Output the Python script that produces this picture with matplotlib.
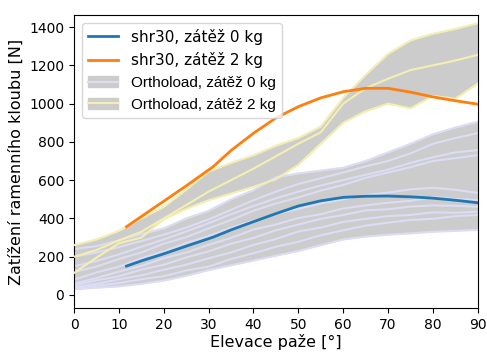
import numpy as np
import matplotlib
matplotlib.use("Agg")
import matplotlib.pyplot as plt
from matplotlib.patches import Patch
from matplotlib.lines import Line2D

# elevation grid of the Orthoload curves
elev = np.arange(0, 91, 5)

# Orthoload, 0 kg (individual patients)
ol0_1 = [240, 255, 285, 318, 348, 400, 440, 500, 548, 615, 635, 650, 665, 700, 745, 790, 840, 875, 905]
ol0_2 = [200, 222, 250, 282, 315, 352, 395, 445, 495, 540, 580, 610, 640, 672, 700, 740, 790, 820, 846]
ol0_3 = [150, 178, 212, 252, 290, 332, 375, 422, 465, 505, 540, 572, 600, 628, 655, 690, 720, 745, 757]
ol0_4 = [120, 148, 188, 222, 268, 302, 348, 392, 440, 478, 510, 545, 575, 612, 640, 668, 700, 715, 731]
ol0_5 = [80, 118, 148, 192, 228, 272, 308, 352, 388, 422, 450, 478, 500, 522, 535, 552, 560, 550, 533]
ol0_6 = [60, 88, 122, 152, 192, 222, 262, 298, 342, 368, 402, 422, 452, 468, 482, 492, 512, 502, 496]
ol0_7 = [50, 76, 98, 132, 158, 196, 228, 268, 298, 338, 368, 398, 418, 442, 448, 462, 468, 466, 461]
ol0_8 = [40, 58, 82, 102, 132, 158, 192, 222, 262, 292, 332, 352, 382, 398, 412, 418, 432, 430, 435]
ol0_9 = [35, 48, 62, 82, 98, 128, 148, 188, 218, 252, 278, 312, 338, 362, 378, 392, 398, 412, 418]
ol0_10 = [30, 38, 45, 58, 75, 100, 130, 155, 180, 205, 230, 260, 290, 305, 315, 322, 330, 335, 340]

# Orthoload, 2 kg
ol2_1 = [260, 290, 335, 400, 460, 550, 645, 690, 730, 780, 820, 880, 1030, 1150, 1260, 1330, 1365, 1390, 1420]
ol2_2 = [200, 235, 285, 330, 400, 470, 540, 600, 660, 725, 790, 850, 1000, 1080, 1130, 1175, 1200, 1225, 1255]
ol2_3 = [115, 195, 270, 300, 395, 450, 495, 530, 565, 605, 680, 790, 900, 960, 1000, 975, 1040, 1025, 1105]

# shr30 model
shr_x = [11.7, 15, 20, 25, 31, 35, 40, 45, 50, 55, 60, 65, 70, 75, 80, 85, 90]
shr0 = [151, 178, 215, 255, 302, 340, 383, 425, 465, 492, 510, 516, 517, 513, 506, 495, 482]
shr2 = [357, 410, 490, 570, 670, 755, 845, 925, 984, 1030, 1062, 1080, 1080, 1060, 1035, 1015, 997]

band_col = '#cccccc'
lav = '#dcdcf5'
yel = '#f4eeb0'

ol0 = np.array([ol0_1, ol0_2, ol0_3, ol0_4, ol0_5, ol0_6, ol0_7, ol0_8, ol0_9, ol0_10])
ol2 = np.array([ol2_1, ol2_2, ol2_3])

fig = plt.figure(figsize=(4.87, 3.53), dpi=100)
ax = fig.add_axes([0.152, 0.1275, 0.829, 0.83])

ax.fill_between(elev, ol2.min(axis=0), ol2.max(axis=0), color=band_col, lw=0, zorder=1)
ax.fill_between(elev, ol0.min(axis=0), ol0.max(axis=0), color=band_col, lw=0, zorder=1)
for c in ol0:
    ax.plot(elev, c, color=lav, lw=1.5, zorder=2)
for c in ol2:
    ax.plot(elev, c, color=yel, lw=1.5, zorder=3)

ax.plot(shr_x, shr0, color='#1f77b4', lw=2, zorder=4)
ax.plot(shr_x, shr2, color='#ff7f0e', lw=2, zorder=4)

ax.set_xlim(0, 90)
ax.set_ylim(-68, 1463)
ax.set_xticks(np.arange(0, 91, 10))
ax.set_yticks(np.arange(0, 1401, 200))
ax.tick_params(labelsize=10)
ax.set_xlabel('Elevace paže [°]', fontsize=11.5, labelpad=2)
ax.set_ylabel('Zatížení ramenního kloubu [N]', fontsize=11.5)

handles = [
    Line2D([], [], color='#1f77b4', lw=2),
    Line2D([], [], color='#ff7f0e', lw=2),
    (Patch(color=band_col), Line2D([], [], color=lav, lw=1.5)),
    (Patch(color=band_col), Line2D([], [], color=yel, lw=1.5)),
]
labels = ['shr30, zátěž 0 kg', 'shr30, zátěž 2 kg',
          'Orthoload, zátěž 0 kg', 'Orthoload, zátěž 2 kg']
leg = ax.legend(handles, labels, loc='upper left', fontsize=11)
for t in leg.get_texts()[2:]:
    t.set_fontfamily('Liberation Sans')

fig.savefig('out.png', dpi=100)
